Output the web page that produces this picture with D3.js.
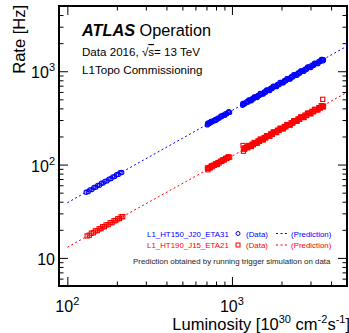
<!DOCTYPE html>
<html>
<head>
<meta charset="utf-8">
<script src="https://cdn.jsdelivr.net/npm/d3@7"></script>
<style>
  body { margin: 0; background: #fff; }
  svg { display: block; font-family: "Liberation Sans", Arial, Helvetica, sans-serif; }
</style>
</head>
<body>
<div id="chart"></div>
<script>
// L1_HT150_J20_ETA31 (blue circles)
const j20Lumi = [
  130, 134, 137, 141, 145, 149, 153, 157, 161, 165, 169, 174, 179, 184, 189, 194, 199, 204, 209, 214,
  708, 712, 716, 722, 730, 740, 752, 765, 778, 792, 806, 820, 835, 850, 866, 882, 898, 915, 932, 950, 968,
  745, 800, 858, 905, 958,
  1160, 1163, 1172, 1185, 1200,
  1230, 1250, 1275, 1300, 1325, 1350, 1380, 1410, 1440, 1470, 1500, 1535, 1570, 1605, 1640, 1680, 1720, 1760,
  1800, 1845, 1890, 1935, 1980, 2030, 2080, 2130, 2180, 2235, 2290, 2345, 2400, 2460, 2520, 2580, 2645, 2710,
  2775, 2845, 2915, 2985, 3060, 3135, 3210, 3290, 3370, 3450, 3530, 3600,
  1240, 1288, 1338, 1395, 1455, 1518, 1588, 1660, 1740, 1822, 1912, 2005, 2105, 2207, 2318, 2430, 2550, 2678,
  2810, 2950, 3098, 3250, 3410, 3565,
  1265, 1312, 1365, 1425, 1485, 1552, 1622, 1700, 1780, 1868, 1958, 2055, 2155, 2262, 2372, 2490, 2612, 2742,
  2880, 3022, 3172, 3330, 3490, 3580
];
const j20Rate = [
  50.5, 51.2, 53.6, 54.0, 56.8, 57.2, 60.0, 60.2, 63.2, 63.3, 66.2, 66.8, 70.0, 70.6, 74.0, 74.4, 77.8, 78.4, 81.8, 82.2,
  266, 278, 270, 280, 276, 284, 284, 294, 293, 304, 303, 315, 313, 326, 325, 338, 336, 352, 350, 364, 362,
  290, 298, 333, 338, 370,
  432, 452, 440, 455, 448,
  473, 466, 490, 485, 509, 503, 530, 525, 552, 548, 575, 571, 602, 597, 628, 624, 659, 654,
  689, 685, 723, 718, 757, 753, 795, 789, 832, 828, 874, 868, 915, 909, 960, 953, 1007, 1001,
  1055, 1049, 1107, 1100, 1161, 1154, 1217, 1210, 1277, 1268, 1336, 1330,
  470, 488, 506, 527, 550, 573, 600, 627, 657, 687, 720, 755, 792, 830, 871, 912, 957, 1004,
  1053, 1104, 1158, 1214, 1272, 1329,
  493, 482, 532, 522, 578, 569, 631, 622, 691, 683, 760, 751, 835, 825, 918, 907, 1009, 997,
  1110, 1096, 1221, 1206, 1341, 1294
];

// L1_HT190_J15_ETA21 (red squares)
const j15Lumi = [
  132, 136, 140, 144, 148, 152, 156, 160, 164, 168, 172, 177, 182, 187, 192, 197, 202, 207, 212, 217,
  710, 714, 720, 728, 737, 747, 758, 770, 782, 795, 808, 822, 836, 851, 866, 882, 898, 915, 932, 950, 968,
  752, 815, 875, 940,
  1168, 1175, 1185, 1195, 1205,
  1230, 1250, 1275, 1300, 1325, 1350, 1380, 1410, 1440, 1470, 1500, 1535, 1570, 1605, 1640, 1680, 1720, 1760,
  1800, 1845, 1890, 1935, 1980, 2030, 2080, 2130, 2180, 2235, 2290, 2345, 2400, 2460, 2520, 2580, 2645, 2710,
  2775, 2845, 2915, 2985, 3060, 3135, 3210, 3290, 3370, 3450, 3530, 3600, 3560,
  1240, 1288, 1338, 1395, 1455, 1518, 1588, 1660, 1740, 1822, 1912, 2005, 2105, 2207, 2318, 2430, 2550, 2678,
  2810, 2950, 3098, 3250, 3410, 3565,
  1265, 1312, 1365, 1425, 1485, 1552, 1622, 1700, 1780, 1868, 1958, 2055, 2155, 2262, 2372, 2490, 2612, 2742,
  2880, 3022, 3172, 3330, 3490, 3580
];
const j15Rate = [
  17.2, 17.5, 18.4, 18.6, 19.5, 19.6, 20.5, 20.6, 21.6, 21.6, 22.6, 22.7, 23.8, 23.9, 25.0, 25.1, 26.2, 26.4, 27.5, 27.7,
  92, 88, 91, 93, 92, 95.5, 95, 98.5, 98, 102, 101, 105, 104, 108.5, 108, 112.5, 112, 116.5, 116, 121, 120,
  97, 100, 111, 119,
  160, 139, 150, 146, 152,
  153.7, 151.5, 159.1, 157.2, 165.1, 163.1, 171.7, 170.3, 179.0, 177.2, 186.4, 184.9, 194.8, 193.0, 203.1, 201.7, 212.8, 211.2,
  222.4, 221.0, 233.1, 231.4, 243.8, 242.3, 255.7, 253.8, 267.5, 266.0, 280.5, 278.6, 293.5, 291.7, 307.7, 305.5, 322.4, 320.3,
  337.7, 335.7, 354.1, 351.6, 371.2, 368.7, 388.7, 386.3, 407.4, 404.4, 426.0, 421.3, 500,
  152.6, 158.3, 164.2, 171.0, 178.2, 185.7, 194.0, 202.5, 212.0, 221.7, 232.3, 243.2, 254.8, 266.8, 279.6, 292.8, 306.6, 321.5,
  336.7, 353.1, 370.1, 387.6, 406.0, 424.0,
  160.2, 156.3, 172.5, 169.5, 187.2, 184.1, 204.0, 201.0, 223.3, 220.3, 244.8, 241.6, 268.6, 265.0, 294.7, 290.8, 323.4, 319.1,
  355.4, 350.6, 390.1, 385.0, 427.8, 412.9
];

// prediction lines (end points)
const predLumi = [100, 5000];
const j20Pred = [39, 1858];
const j15Pred = [13.0, 594];

// ticks
const xMajor = [100, 1000];
const xMinor = [200, 300, 400, 500, 600, 700, 800, 900, 2000, 3000, 4000];
const yMajor = [10, 100, 1000];
const yMinor = [6, 7, 8, 9, 20, 30, 40, 50, 60, 70, 80, 90, 200, 300, 400, 500, 600, 700, 800, 900, 2000, 3000, 4000];
const xLabels = [[100, '10', '2'], [1000, '10', '3']];
const yLabels = [[10, '10', ''], [100, '10', '2'], [1000, '10', '3']];

const W = 349, H = 333;
const blue = '#0000ff', red = '#ff0000';

const svg = d3.select('#chart').append('svg')
  .attr('width', W)
  .attr('height', H);
svg.append('rect').attr('width', W).attr('height', H).attr('fill', '#fff');

const x = d3.scaleLog().domain([89, 5000]).range([59, 347]);
const y = d3.scaleLog().domain([5, 5000]).range([286, 6]);

const [x0, x1] = x.range();
const [y0, y1] = y.range();

// ticks, all pointing into the frame
function ticks(axisFn, scale, values, size, tr) {
  svg.append('g')
    .attr('transform', tr)
    .call(axisFn(scale).tickValues(values).tickSize(-size).tickFormat(''))
    .call(g => g.select('.domain').remove())
    .call(g => g.selectAll('line').attr('stroke', '#000').attr('stroke-width', 1));
}
ticks(d3.axisBottom, x, xMajor, 9, `translate(0,${y0})`);
ticks(d3.axisBottom, x, xMinor, 4.5, `translate(0,${y0})`);
ticks(d3.axisTop, x, xMajor, 9, `translate(0,${y1})`);
ticks(d3.axisTop, x, xMinor, 4.5, `translate(0,${y1})`);
ticks(d3.axisLeft, y, yMajor, 9, `translate(${x0},0)`);
ticks(d3.axisLeft, y, yMinor, 4.5, `translate(${x0},0)`);
ticks(d3.axisRight, y, yMajor, 9, `translate(${x1},0)`);
ticks(d3.axisRight, y, yMinor, 4.5, `translate(${x1},0)`);

svg.append('rect')
  .attr('x', x0).attr('y', y1)
  .attr('width', x1 - x0).attr('height', y0 - y1)
  .attr('fill', 'none').attr('stroke', '#000').attr('stroke-width', 2);

// tick labels
xLabels.forEach(([v, b, e]) => {
  const t = svg.append('text')
    .attr('x', x(v)).attr('y', 312)
    .attr('text-anchor', 'middle')
    .attr('font-size', 16);
  t.append('tspan').text(b);
  t.append('tspan').attr('font-size', 11).attr('dy', -7).text(e);
});
yLabels.forEach(([v, b, e]) => {
  const t = svg.append('text')
    .attr('x', 55).attr('y', y(v) + 7)
    .attr('text-anchor', 'end')
    .attr('font-size', 16);
  t.append('tspan').text(b);
  if (e) t.append('tspan').attr('font-size', 11).attr('dy', -7).text(e);
});

// axis titles
svg.append('text')
  .attr('transform', `translate(25,${y1 - 1}) rotate(-90)`)
  .attr('text-anchor', 'end')
  .attr('font-size', 16.5)
  .text('Rate [Hz]');

const xt = svg.append('text')
  .attr('x', 350).attr('y', 330)
  .attr('text-anchor', 'end')
  .attr('font-size', 16.5);
xt.append('tspan').text('Luminosity [10');
xt.append('tspan').attr('font-size', 11).attr('dy', -7).text('30');
xt.append('tspan').attr('dy', 7).text(' cm');
xt.append('tspan').attr('font-size', 11).attr('dy', -7).text('-2');
xt.append('tspan').attr('dy', 7).text('s');
xt.append('tspan').attr('font-size', 11).attr('dy', -7).text('-1');
xt.append('tspan').attr('dy', 7).text(']');

// prediction lines
const line = d3.line().x(d => x(d[0])).y(d => y(d[1]));
svg.append('clipPath').attr('id', 'frame')
  .append('rect').attr('x', x0).attr('y', y1).attr('width', x1 - x0).attr('height', y0 - y1);

[[j20Pred, blue], [j15Pred, red]].forEach(([p, c]) => {
  svg.append('path')
    .datum(predLumi.map((l, i) => [l, p[i]]))
    .attr('clip-path', 'url(#frame)')
    .attr('d', line)
    .attr('fill', 'none')
    .attr('stroke', c)
    .attr('stroke-width', 1)
    .attr('stroke-dasharray', '2,2.5');
});

// data markers
svg.append('g').selectAll('circle')
  .data(j20Lumi.map((l, i) => [l, j20Rate[i]]))
  .join('circle')
  .attr('cx', d => x(d[0]))
  .attr('cy', d => y(d[1]))
  .attr('r', 2.1)
  .attr('fill', 'none')
  .attr('stroke', blue)
  .attr('stroke-width', 1.1);

svg.append('g').selectAll('rect')
  .data(j15Lumi.map((l, i) => [l, j15Rate[i]]))
  .join('rect')
  .attr('x', d => x(d[0]) - 2.1)
  .attr('y', d => y(d[1]) - 2.1)
  .attr('width', 4.2)
  .attr('height', 4.2)
  .attr('fill', 'none')
  .attr('stroke', red)
  .attr('stroke-width', 1.1);

// ATLAS label
const atlas = svg.append('text').attr('x', 82).attr('y', 36).attr('font-size', 16.3);
atlas.append('tspan').attr('font-weight', 'bold').attr('font-style', 'italic').text('ATLAS');
atlas.append('tspan').text(' Operation');

const info = svg.append('text').attr('x', 82).attr('y', 56).attr('font-size', 11.6);
info.append('tspan').text('Data 2016, √');
info.append('tspan').style('text-decoration', 'overline').text('s');
info.append('tspan').text('= 13 TeV');

svg.append('text').attr('x', 82).attr('y', 74).attr('font-size', 11.6).text('L1Topo Commissioning');

// legend
const legend = [
  ['L1_HT150_J20_ETA31', blue, 'circle', 233.5],
  ['L1_HT190_J15_ETA21', red, 'square', 245]
];
legend.forEach(([name, c, shape, ly]) => {
  svg.append('text').attr('x', 147).attr('y', ly + 3).attr('font-size', 7.9).attr('fill', c).text(name);
  if (shape === 'circle') {
    svg.append('circle').attr('cx', 238).attr('cy', ly).attr('r', 2)
      .attr('fill', 'none').attr('stroke', c).attr('stroke-width', 1);
  } else {
    svg.append('rect').attr('x', 236).attr('y', ly - 2).attr('width', 4).attr('height', 4)
      .attr('fill', 'none').attr('stroke', c).attr('stroke-width', 1);
  }
  svg.append('text').attr('x', 246).attr('y', ly + 3).attr('font-size', 7.9).attr('fill', c).text('(Data)');
  svg.append('line').attr('x1', 276).attr('x2', 287).attr('y1', ly).attr('y2', ly)
    .attr('stroke', c).attr('stroke-width', 1).attr('stroke-dasharray', '2,2.5');
  svg.append('text').attr('x', 291).attr('y', ly + 3).attr('font-size', 7.9).attr('fill', c).text('(Prediction)');
});

svg.append('text').attr('x', 133).attr('y', 263.5).attr('font-size', 7.9).attr('fill', '#222')
  .text('Prediction obtained by running trigger simulation on data');
</script>
</body>
</html>
